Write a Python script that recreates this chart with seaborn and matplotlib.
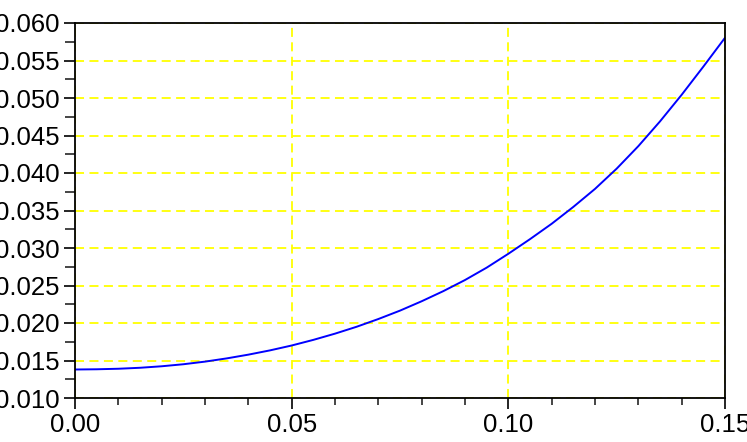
import matplotlib
matplotlib.use("Agg")
import matplotlib.pyplot as plt
from matplotlib.ticker import MultipleLocator, FormatStrFormatter
import seaborn as sns
import pandas as pd

x_values = [0.000, 0.005, 0.010, 0.015, 0.020, 0.025, 0.030, 0.035, 0.040, 0.045,
            0.050, 0.055, 0.060, 0.065, 0.070, 0.075, 0.080, 0.085, 0.090, 0.095,
            0.100, 0.105, 0.110, 0.115, 0.120, 0.125, 0.130, 0.135, 0.140, 0.145, 0.150]
y_values = [0.01380, 0.01383, 0.01390, 0.01403, 0.01423, 0.01450, 0.01485, 0.01528, 0.01578, 0.01635,
            0.01700, 0.01775, 0.01858, 0.01950, 0.02053, 0.02165, 0.02290, 0.02425, 0.02573, 0.02738,
            0.02923, 0.03118, 0.03323, 0.03548, 0.03788, 0.04058, 0.04358, 0.04688, 0.05043, 0.05418, 0.05803]

df = pd.DataFrame({"x": x_values, "y": y_values})

sns.set_style("ticks")
plt.rcParams['font.family'] = ['Liberation Sans', 'DejaVu Sans']

fig = plt.figure(figsize=(7.47, 4.42), dpi=100)
ax = fig.add_axes([75/747, 1-398/442, 650/747, 375/442])

sns.lineplot(data=df, x="x", y="y", ax=ax, color="#0000ff", linewidth=1.4)

ax.set_xlim(0, 0.15)
ax.set_ylim(0.010, 0.060)
ax.xaxis.set_major_locator(MultipleLocator(0.05))
ax.xaxis.set_minor_locator(MultipleLocator(0.01))
ax.yaxis.set_major_locator(MultipleLocator(0.005))
ax.yaxis.set_minor_locator(MultipleLocator(0.0025))
ax.xaxis.set_major_formatter(FormatStrFormatter('%.2f'))
ax.yaxis.set_major_formatter(FormatStrFormatter('%.3f'))

ax.grid(True, which='major', color='#ffff00', linestyle=(0, (5, 3)), linewidth=1.3)
ax.set_axisbelow(True)

for s in ax.spines.values():
    s.set_visible(True)
    s.set_color('black')
    s.set_linewidth(1.3)

ax.tick_params(axis='both', which='major', direction='out', length=8, width=1.2,
               labelsize=18.5, colors='black', pad=3)
ax.tick_params(axis='y', which='minor', direction='out', length=7, width=1.2)
ax.tick_params(axis='x', which='minor', direction='out', length=5, width=1.2)
ax.tick_params(top=False, right=False)

ax.set_xlabel("")
ax.set_ylabel("")

fig.savefig("out.png", dpi=100)
